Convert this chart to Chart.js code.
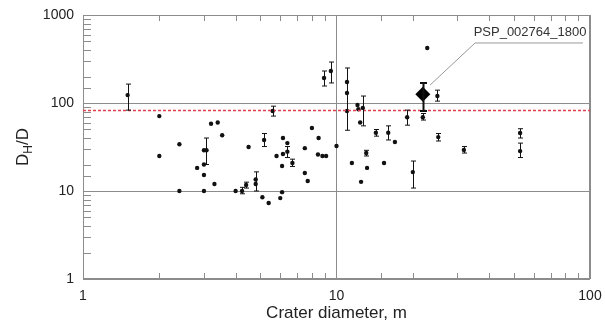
<!DOCTYPE html>
<html>
<head>
<meta charset="utf-8">
<script src="https://cdn.jsdelivr.net/npm/chart.js@4/dist/chart.umd.min.js"></script>
<style>
  body { margin: 0; background: #fff; }
</style>
</head>
<body>
<canvas id="crater" width="605" height="322"></canvas>
<script>
// crater diameter (m) vs depth ratio
var diameter = [1.5, 2.0, 2.0, 2.4, 2.4, 2.82, 3.0, 3.07, 3.0, 3.0, 3.0, 3.2, 3.4, 3.54, 3.3,
                4.0, 4.24, 4.4, 4.5, 4.8, 4.8, 5.1, 5.18, 5.4, 5.6, 5.8, 6.0, 6.1, 6.1, 6.15,
                6.15, 6.4, 6.4, 6.7, 7.5, 7.5, 7.7, 8.0, 8.5, 8.45, 8.8, 9.1, 8.93, 9.5, 10,
                11, 11, 11, 11.5, 12.1, 12.2, 12.4, 12.7, 12.5, 13.1, 13.2, 14.3, 15.4, 16, 17,
                19, 20, 21.9, 22.8, 25, 25.2, 31.8, 53, 53];
var ratio = [123, 71, 25, 34, 10, 18.3, 29, 29, 20, 15.2, 10, 58, 60, 43, 12,
             10, 10, 11.7, 31.6, 13.5, 12, 8.5, 38, 7.3, 81, 25, 8.3, 9.7, 19.2, 40,
             26.3, 35, 28, 20.8, 30.7, 16, 13, 52, 40, 26, 25, 25, 192, 231, 32.5,
             173, 130, 81, 20.8, 95, 85, 60, 88, 12.7, 27, 18.3, 46, 20.8, 46, 36,
             69, 16.4, 69, 422, 120, 41, 29.3, 45.6, 28.4];
var errLow = [83, null, null, null, null, null, null, 20, null, null, null, null, null, null, null,
              null, 9.3, 10.8, null, 10, null, null, 32, null, 71, null, null, null, null, null,
              null, null, 24, 19, null, null, null, null, null, null, null, null, 156, 169, null,
              null, 49, null, null, null, null, null, 55, null, 25, null, 42, null, 38, null,
              56, 10.8, 64, null, 105, 37, 27, 40, 24];
var errHigh = [164, null, null, null, null, null, null, 40, null, null, null, null, null, null, null,
               null, 11, 12.6, null, 16.5, null, null, 45, null, 92, null, null, null, null, null,
               null, null, 32, 23, null, null, null, null, null, null, null, null, 231, 292, null,
               null, 250, null, null, null, null, null, 120, null, 29, null, 50, null, 55, null,
               83, 21.9, 76, null, 140, 45, 32, 51, 35];

// highlighted crater
var targetDiam = [21.9];
var targetRatio = [126];
var targetLow = [81];
var targetHigh = [169];

var thresholdRatio = 82;

// callout leader line and its label
var calloutX = [23.4, 35.2, 93.8];
var calloutY = [160, 481, 481];
var calloutText = 'PSP_002764_1800';
var calloutTextAt = [58, 640];

var FONT = "'Liberation Sans', Arial, sans-serif";
var GRID = '#8c8c8c';

function isDecade(v) {
    if (!v) return false;
    var l = Math.log10(v);
    return Math.abs(l - Math.round(l)) < 1e-9;
}

function toPoints(xs, ys) {
    return xs.map(function(x, i) { return {x: x, y: ys[i]}; });
}

var frameTicks = {
    id: 'frameTicks',
    beforeDatasetsDraw: function(chart) {
        var a = chart.chartArea, ctx = chart.ctx;
        var sx = chart.scales.x, sy = chart.scales.y;
        ctx.save();
        ctx.strokeStyle = GRID;
        ctx.lineWidth = 1;
        ctx.strokeRect(Math.round(a.left) + 0.5, Math.round(a.top) + 0.5,
                       Math.round(a.right - a.left) - 1, Math.round(a.bottom - a.top) - 1);
        ctx.beginPath();
        sx.ticks.forEach(function(t) {
            if (isDecade(t.value)) return;
            var px = Math.round(sx.getPixelForValue(t.value)) + 0.5;
            ctx.moveTo(px, a.top); ctx.lineTo(px, a.top + 6);
            ctx.moveTo(px, a.bottom); ctx.lineTo(px, a.bottom - 6);
        });
        sy.ticks.forEach(function(t) {
            if (isDecade(t.value)) return;
            var py = Math.round(sy.getPixelForValue(t.value)) + 0.5;
            ctx.moveTo(a.left, py); ctx.lineTo(a.left + 8, py);
        });
        ctx.stroke();
        ctx.restore();
    }
};

var errorBars = {
    id: 'errorBars',
    afterDatasetsDraw: function(chart) {
        var ctx = chart.ctx, sx = chart.scales.x, sy = chart.scales.y;
        ctx.save();
        ctx.strokeStyle = '#111';
        chart.data.datasets.forEach(function(ds) {
            if (!ds.errLow) return;
            ds.data.forEach(function(p, i) {
                var lo = ds.errLow[i], hi = ds.errHigh[i];
                if (lo == null) return;
                var px = Math.round(sx.getPixelForValue(p.x)) + 0.5;
                var y1 = sy.getPixelForValue(lo), y2 = sy.getPixelForValue(hi);
                var c = ds.capWidth || 2.5;
                ctx.lineWidth = ds.barWidth || 1;
                ctx.beginPath();
                ctx.moveTo(px, y1); ctx.lineTo(px, y2);
                ctx.moveTo(px - c, y1); ctx.lineTo(px + c, y1);
                ctx.moveTo(px - c, y2); ctx.lineTo(px + c, y2);
                ctx.stroke();
            });
        });
        ctx.restore();
    }
};

var texts = {
    id: 'texts',
    afterDraw: function(chart) {
        var ctx = chart.ctx, a = chart.chartArea;
        var sx = chart.scales.x, sy = chart.scales.y;
        ctx.save();
        // callout label
        ctx.fillStyle = '#333';
        ctx.font = '13px ' + FONT;
        ctx.textAlign = 'center';
        ctx.textBaseline = 'middle';
        ctx.fillText(calloutText, sx.getPixelForValue(calloutTextAt[0]), sy.getPixelForValue(calloutTextAt[1]));

        // y title D_H/D with a subscript
        var big = '17px ' + FONT, small = '12px ' + FONT;
        ctx.font = big; var wD = ctx.measureText('D').width; var wS = ctx.measureText('/D').width;
        ctx.font = small; var wH = ctx.measureText('H').width;
        var total = wD + wH + wS;
        ctx.translate(28, (a.top + a.bottom) / 2);
        ctx.rotate(-Math.PI / 2);
        ctx.textAlign = 'left';
        ctx.textBaseline = 'alphabetic';
        ctx.fillStyle = '#222';
        var x0 = -total / 2;
        ctx.font = big; ctx.fillText('D', x0, 0);
        ctx.font = small; ctx.fillText('H', x0 + wD, 4);
        ctx.font = big; ctx.fillText('/D', x0 + wD + wH, 0);
        ctx.restore();
    }
};

function gridColor(c) {
    var v = c.tick && c.tick.value;
    return isDecade(v) ? GRID : 'rgba(0,0,0,0)';
}

var ctx = document.getElementById('crater').getContext('2d');

new Chart(ctx, {
    type: 'scatter',
    data: {
        datasets: [
            {
                label: 'threshold',
                type: 'line',
                data: [{x: 1, y: thresholdRatio}, {x: 100, y: thresholdRatio}],
                borderColor: '#e0404e',
                borderWidth: 1.5,
                borderDash: [3, 2],
                pointRadius: 0,
                fill: false
            },
            {
                label: 'callout',
                type: 'line',
                data: toPoints(calloutX, calloutY),
                borderColor: '#999',
                borderWidth: 1,
                pointRadius: 0,
                fill: false
            },
            {
                label: 'craters',
                data: toPoints(diameter, ratio),
                errLow: errLow,
                errHigh: errHigh,
                backgroundColor: '#111',
                borderWidth: 0,
                pointRadius: 2.2
            },
            {
                label: 'PSP_002764_1800',
                data: toPoints(targetDiam, targetRatio),
                errLow: targetLow,
                errHigh: targetHigh,
                capWidth: 3.5,
                barWidth: 2,
                backgroundColor: '#000',
                borderWidth: 0,
                pointStyle: 'rectRot',
                pointRadius: 7.5
            }
        ]
    },
    options: {
        responsive: false,
        animation: false,
        events: [],
        layout: { autoPadding: false, padding: { top: 15, right: 15, left: 0, bottom: 0 } },
        plugins: { legend: { display: false }, tooltip: { enabled: false } },
        scales: {
            x: {
                type: 'logarithmic',
                min: 1,
                max: 100,
                afterFit: function(s) {
                    s.height = 43;
                    s.paddingLeft = 0; s.paddingRight = 0;
                },
                border: { display: false },
                grid: { color: gridColor, drawTicks: false },
                ticks: {
                    autoSkip: false,
                    maxRotation: 0,
                    padding: 9,
                    color: '#222',
                    font: { family: FONT, size: 14 },
                    callback: function(v) { return isDecade(v) ? String(v) : ''; }
                },
                title: {
                    display: true,
                    text: 'Crater diameter, m',
                    color: '#222',
                    padding: 0,
                    font: { family: FONT, size: 17, lineHeight: 1.0 }
                }
            },
            y: {
                type: 'logarithmic',
                min: 1,
                max: 1000,
                afterFit: function(s) {
                    s.width = 83;
                    s.paddingTop = 0; s.paddingBottom = 0;
                },
                border: { display: false },
                grid: { color: gridColor, drawTicks: false },
                ticks: {
                    autoSkip: false,
                    padding: 9,
                    color: '#222',
                    font: { family: FONT, size: 14 },
                    callback: function(v) { return isDecade(v) ? String(v) : ''; }
                }
            }
        }
    },
    plugins: [frameTicks, errorBars, texts]
});
</script>
</body>
</html>
